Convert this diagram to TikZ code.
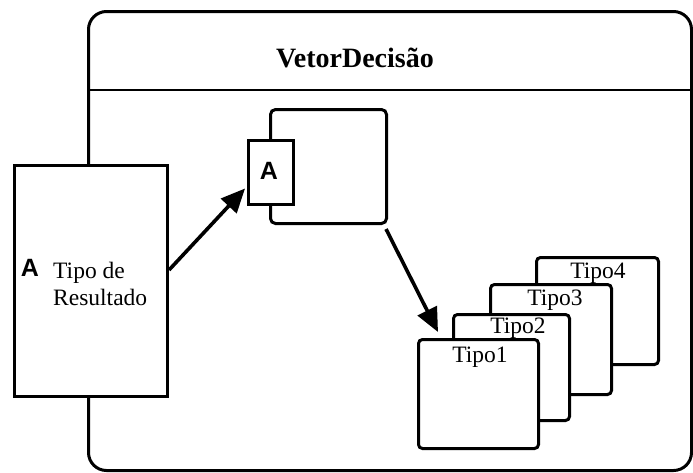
\documentclass[tikz,border=0pt]{standalone}
\usepackage{fontspec}
\setmainfont{Liberation Serif}
\newfontfamily\sansbold{Liberation Sans}
\usetikzlibrary{arrows.meta}

\tikzset{
  thick line/.style={line width=3pt, draw=black},
  plainbox/.style={thick line, fill=white, rectangle, inner sep=0pt, anchor=north west},
  roundbox/.style={plainbox, rounded corners=4pt},
  lbl/.style={font=\fontsize{23.5}{27}\selectfont, inner sep=0pt},
  tag/.style={font=\sansbold\bfseries\fontsize{25}{28}\selectfont, inner sep=0pt},
  arr/.style={line width=3.6pt, -{Triangle[length=24pt,width=21pt]}},
}

\begin{document}
\begin{tikzpicture}[x=1pt, y=-1pt]
  \useasboundingbox (0,0) rectangle (693,472);

  % outer class frame with its title compartment
  \node[thick line, rectangle, rounded corners=18pt, minimum width=603pt, minimum height=459pt,
        anchor=north west, inner sep=0pt] (frame) at (87,10) {};
  \draw[line width=2.6pt] (frame.west |- 0,90) coordinate (sepL) -- (frame.east |- 0,90) coordinate (sepR);
  \node[font=\bfseries\fontsize{28}{32}\selectfont, inner sep=0pt] (title) at (355,58) {VetorDecisão};

  % result-type object on the left edge
  \node[plainbox, minimum width=153pt, minimum height=231pt] (res) at (13,164) {};
  \node[tag] (resA) at (30,268) {A};
  \node[lbl, align=left, anchor=west] (resT) at (53,284) {Tipo de\\Resultado};

  % central object with its port
  \node[roundbox, rounded corners=5pt, minimum width=116pt, minimum height=114pt] (mid) at (269,108) {};
  \node[plainbox, minimum width=45pt, minimum height=64pt] (port) at (247,139) {};
  \node[tag] (portA) at (269,171) {A};

  % stacked type objects
  \node[roundbox, minimum width=122pt, minimum height=107pt] (t4) at (535,256) {};
  \node[lbl] (t4l) at (598,273) {Tipo4};
  \node[roundbox, minimum width=121pt, minimum height=110pt] (t3) at (489,283) {};
  \node[lbl] (t3l) at (555,300) {Tipo3};
  \node[roundbox, minimum width=116pt, minimum height=106pt] (t2) at (452,313) {};
  \node[lbl] (t2l) at (518,328) {Tipo2};
  \node[roundbox, minimum width=120pt, minimum height=109pt] (t1) at (417,338) {};
  \node[lbl] (t1l) at (480,357) {Tipo1};

  % connectors
  \draw[arr] ([yshift=11pt]res.east) -- ([shift={(-2pt,-16pt)}]port.west);
  \draw[arr] ([shift={(-2pt,-4pt)}]mid.south east) -- ([shift={(21pt,6pt)}]t1.north west);
\end{tikzpicture}
\end{document}
